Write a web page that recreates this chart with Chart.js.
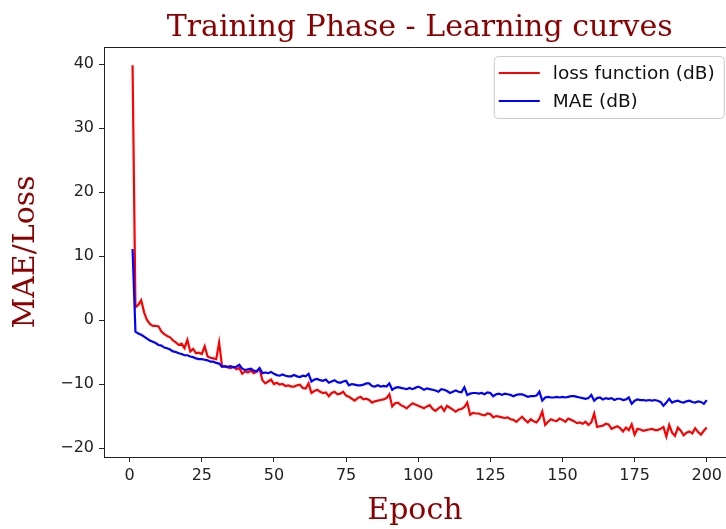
<!DOCTYPE html>
<html>
<head>
<meta charset="utf-8">
<script src="https://cdn.jsdelivr.net/npm/chart.js@4/dist/chart.umd.min.js"></script>
<style>
html,body{margin:0;padding:0;background:#fff;overflow:hidden}
#c{display:block}
</style>
</head>
<body>
<canvas id="c" width="726" height="529"></canvas>
<script>
// ---- data ----
const epochs = Array.from({length: 200}, (_, i) => i + 1);
const lossDb = [
  39.8, 2.0, 2.4, 3.1, 1.2, 0.0, -0.6, -0.9, -0.9, -1.0,
  -1.8, -2.2, -2.5, -2.7, -3.2, -3.5, -3.9, -3.7, -4.4, -3.1,
  -4.9, -4.5, -5.2, -5.1, -5.3, -4.1, -5.7, -5.9, -6.0, -6.1,
  -3.5, -7.2, -7.3, -7.4, -7.5, -7.3, -7.7, -7.5, -8.4, -8.0,
  -8.2, -7.9, -8.3, -8.1, -7.6, -9.4, -9.9, -9.6, -9.3, -10.0,
  -9.8, -10.1, -10.0, -10.3, -10.2, -10.4, -10.4, -10.2, -10.1, -10.6,
  -10.7, -9.9, -11.4, -11.1, -10.9, -11.2, -11.4, -11.3, -11.9, -11.4,
  -11.2, -11.6, -11.5, -11.2, -11.8, -12.0, -12.3, -12.6, -12.2, -12.0,
  -12.4, -12.3, -12.5, -12.9, -12.7, -12.6, -12.5, -12.4, -12.2, -11.6,
  -13.5, -13.0, -12.9, -13.3, -13.5, -13.8, -13.4, -13.0, -13.2, -13.4,
  -13.6, -13.8, -13.5, -13.3, -13.9, -14.2, -13.8, -13.5, -14.2, -13.4,
  -13.7, -14.0, -14.3, -14.0, -13.9, -13.6, -12.9, -14.8, -14.5, -14.6,
  -14.6, -14.8, -14.9, -14.6, -14.7, -15.2, -15.0, -15.1, -15.2, -15.3,
  -15.2, -15.5, -15.6, -15.9, -15.5, -15.1, -15.6, -16.0, -15.5, -15.8,
  -16.0, -15.4, -14.3, -16.4, -15.9, -15.5, -15.7, -15.8, -15.4, -15.6,
  -15.9, -15.4, -15.6, -15.8, -16.1, -16.0, -16.2, -15.9, -16.4, -16.0,
  -14.6, -16.7, -16.6, -16.5, -16.2, -16.3, -17.0, -16.8, -16.6, -16.9,
  -17.4, -16.8, -17.2, -16.3, -17.9, -17.0, -17.1, -17.3, -17.2, -17.1,
  -17.0, -17.2, -17.2, -17.0, -16.7, -18.2, -16.4, -17.6, -18.1, -16.8,
  -17.3, -18.0, -17.6, -17.4, -17.7, -16.9, -17.5, -17.9, -17.3, -16.8
];
const maeDb = [
  11.1, -1.8, -2.1, -2.3, -2.6, -2.9, -3.2, -3.4, -3.6, -3.9,
  -4.0, -4.3, -4.4, -4.6, -4.9, -5.0, -5.2, -5.3, -5.5, -5.5,
  -5.7, -5.8, -6.0, -6.1, -6.1, -6.2, -6.3, -6.5, -6.5, -6.7,
  -6.8, -7.3, -7.2, -7.3, -7.2, -7.4, -7.3, -7.0, -7.6, -7.8,
  -7.7, -7.6, -7.9, -8.0, -7.5, -8.3, -8.2, -8.3, -8.1, -8.4,
  -8.6, -8.7, -8.5, -8.7, -8.8, -8.8, -8.6, -8.8, -8.9, -8.7,
  -8.8, -8.4, -9.6, -9.3, -9.2, -9.4, -9.5, -9.3, -9.8, -9.6,
  -9.4, -9.7, -9.8, -9.6, -9.5, -10.2, -10.0, -10.1, -10.2, -10.2,
  -10.1, -9.9, -9.9, -10.3, -10.4, -10.2, -10.4, -10.3, -10.4, -9.9,
  -10.9, -10.6, -10.5, -10.6, -10.7, -10.8, -10.6, -10.8, -10.6, -10.4,
  -10.6, -10.9, -10.7, -10.8, -10.9, -11.0, -11.2, -10.8, -10.9, -11.1,
  -11.4, -11.2, -11.0, -11.2, -11.3, -10.5, -11.7, -11.5, -11.4, -11.4,
  -11.5, -11.4, -11.6, -11.3, -11.4, -11.9, -11.6, -11.5, -11.7, -11.5,
  -11.6, -11.7, -11.9, -11.7, -11.6, -11.6, -11.8, -12.0, -11.9, -11.9,
  -11.8, -11.2, -12.6, -12.1, -12.0, -12.1, -12.1, -12.0, -12.1, -12.0,
  -12.1, -12.0, -11.9, -11.9, -12.0, -12.1, -12.2, -12.3, -12.2, -11.7,
  -12.6, -12.2, -12.1, -12.4, -12.2, -12.3, -12.2, -12.5, -12.3, -12.3,
  -12.5, -12.4, -12.1, -13.1, -12.6, -12.4, -12.5, -12.5, -12.6, -12.5,
  -12.6, -12.5, -12.6, -12.8, -13.4, -12.9, -12.3, -12.9, -12.7, -12.6,
  -12.8, -12.9, -12.7, -12.6, -12.8, -12.9, -12.7, -12.8, -13.1, -12.5
];
const seriesLabels = ['loss function (dB)', 'MAE (dB)'];
const seriesColors = ['#ff0000', '#0000ff'];
const xTicks = [0, 25, 50, 75, 100, 125, 150, 175, 200];
const yTicks = [-20, -10, 0, 10, 20, 30, 40];
const titleText = 'Training Phase - Learning curves';
const xLabel = 'Epoch';
const yLabel = 'MAE/Loss';

// ---- styling ----
const DARKRED = '#8b0000';
const AXIS = '#222222';
const X_MIN = -8.9, X_MAX = 206.6, X_FULL_MAX = 209.95;
const Y_MIN = -21.4, Y_MAX = 42.66;
const fmt = v => String(v).replace('-', '\u2212');

const mplDecor = {
  id: 'mplDecor',
  afterDraw(chart) {
    const {ctx, chartArea: a, scales} = chart;
    ctx.save();
    // top spine
    ctx.strokeStyle = AXIS;
    ctx.lineWidth = 1;
    ctx.beginPath();
    ctx.moveTo(a.left, a.top + 0.5);
    ctx.lineTo(a.right, a.top + 0.5);
    ctx.stroke();
    // title, centered over full axes
    const cx = (a.left + scales.x.getPixelForValue(X_FULL_MAX)) / 2;
    ctx.font = '30px "DejaVu Serif"';
    ctx.fillStyle = DARKRED;
    ctx.textAlign = 'center';
    ctx.textBaseline = 'alphabetic';
    ctx.fillText(titleText, cx, 36);
    // legend box
    const bw = 230, bh = 62;
    const bx = a.right - 2 - bw, by = a.top + 9;
    ctx.beginPath();
    if (ctx.roundRect) ctx.roundRect(bx + 0.5, by + 0.5, bw, bh, 4); else ctx.rect(bx + 0.5, by + 0.5, bw, bh);
    ctx.fillStyle = 'rgba(255,255,255,0.8)';
    ctx.fill();
    ctx.strokeStyle = '#cccccc';
    ctx.lineWidth = 1;
    ctx.stroke();
    ctx.font = '18.5px "DejaVu Sans"';
    ctx.textAlign = 'left';
    ctx.textBaseline = 'middle';
    chart.data.datasets.forEach((ds, i) => {
      const ry = by + 17 + i * 28;
      ctx.strokeStyle = ds.borderColor;
      ctx.lineWidth = 2.2;
      ctx.beginPath();
      ctx.moveTo(bx + 5, ry);
      ctx.lineTo(bx + 46, ry);
      ctx.stroke();
      ctx.fillStyle = '#111';
      ctx.fillText(ds.label, bx + 59, ry + 1);
    });
    ctx.restore();
  }
};

new Chart(document.getElementById('c'), {
  type: 'line',
  data: {
    labels: epochs,
    datasets: [
      {label: seriesLabels[0], data: lossDb, borderColor: seriesColors[0], borderWidth: 2.2,
       pointRadius: 0, fill: false, tension: 0, order: 2},
      {label: seriesLabels[1], data: maeDb, borderColor: seriesColors[1], borderWidth: 2.2,
       pointRadius: 0, fill: false, tension: 0, order: 1}
    ]
  },
  options: {
    responsive: false,
    animation: false,
    devicePixelRatio: 1,
    layout: {padding: {top: 47, left: 0, right: 0, bottom: 0}},
    plugins: {legend: {display: false}, title: {display: false}, tooltip: {enabled: false}},
    scales: {
      x: {
        type: 'linear', min: X_MIN, max: X_MAX,
        afterBuildTicks: s => { s.ticks = xTicks.map(v => ({value: v})); },
        afterFit: s => { s.height = 72; },
        grid: {drawOnChartArea: false, drawTicks: true, tickLength: 5, tickColor: AXIS, tickWidth: 1},
        border: {display: true, color: AXIS, width: 1},
        ticks: {font: {family: 'DejaVu Sans', size: 16}, color: AXIS, padding: 4, maxRotation: 0, autoSkip: false,
                callback: v => fmt(v)},
        title: {display: true, text: xLabel, color: DARKRED,
                font: {family: 'DejaVu Serif', size: 30, lineHeight: 1.2}, padding: {top: 0, bottom: 0}}
      },
      y: {
        type: 'linear', min: Y_MIN, max: Y_MAX,
        afterBuildTicks: s => { s.ticks = yTicks.map(v => ({value: v})); },
        afterFit: s => { s.width = 104; },
        grid: {drawOnChartArea: false, drawTicks: true, tickLength: 5, tickColor: AXIS, tickWidth: 1},
        border: {display: true, color: AXIS, width: 1},
        ticks: {font: {family: 'DejaVu Sans', size: 16}, color: AXIS, padding: 5, autoSkip: false,
                callback: v => fmt(v)},
        title: {display: true, text: yLabel, color: DARKRED,
                font: {family: 'DejaVu Serif', size: 30, lineHeight: 1.2}, padding: {top: 8, bottom: 0}}
      }
    }
  },
  plugins: [mplDecor]
});
</script>
</body>
</html>
